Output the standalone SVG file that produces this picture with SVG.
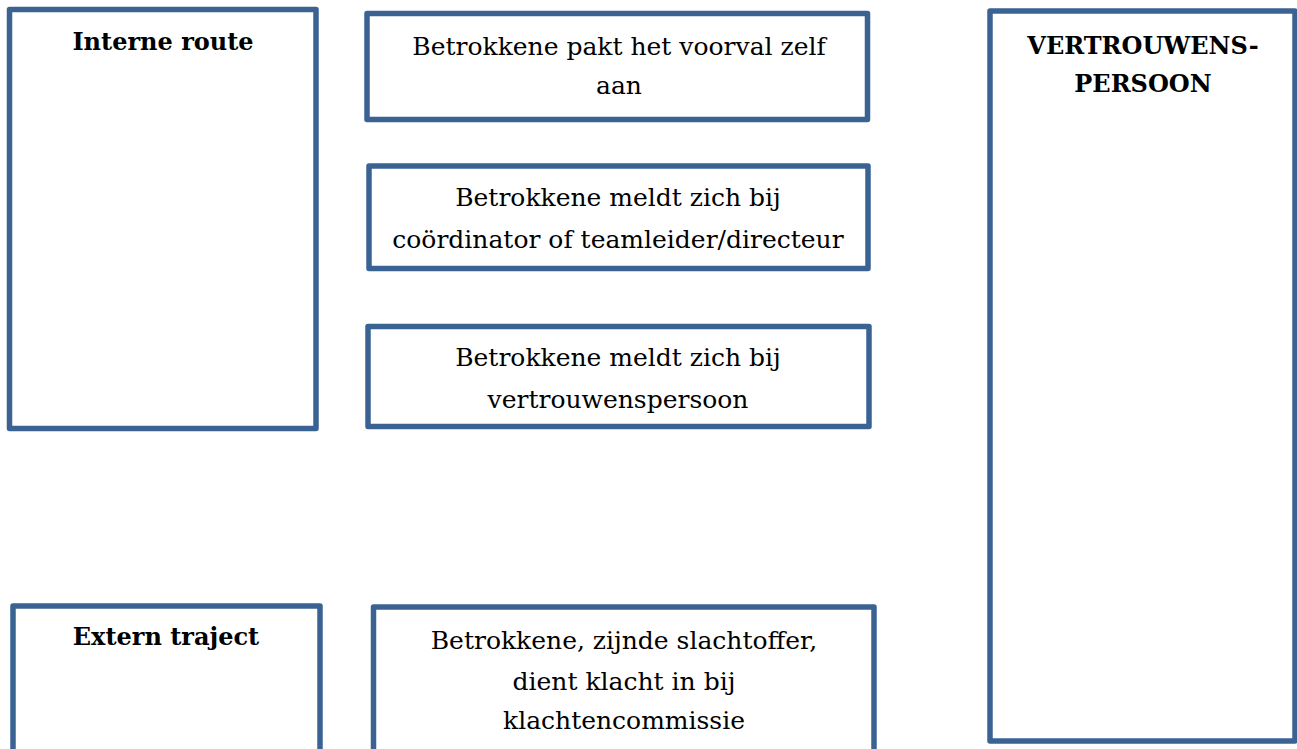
<svg xmlns="http://www.w3.org/2000/svg" width="1297" height="749" viewBox="0 0 1297 749">
<style>
.box{fill:#fff;stroke:#3A6394;stroke-width:5.5;stroke-linejoin:round}
.t{font-family:"DejaVu Serif","Liberation Serif",serif;font-size:25px;fill:#000;text-anchor:middle}
.h{font-family:"DejaVu Serif","Liberation Serif",serif;font-size:24px;font-weight:bold;fill:#000;text-anchor:middle}
</style>
<rect width="1297" height="749" fill="#fff"/>
<g id="interne-route">
<rect class="box" x="9.5" y="9.5" width="306.5" height="419"/>
<text class="h" x="163" y="50">Interne route</text>
</g>
<g id="zelf">
<rect class="box" x="367" y="13.5" width="500.5" height="106"/>
<text class="t" x="619" y="55">Betrokkene pakt het voorval zelf</text>
<text class="t" x="619" y="94">aan</text>
</g>
<g id="coordinator">
<rect class="box" x="369" y="166" width="499" height="102.5"/>
<text class="t" x="618" y="206">Betrokkene meldt zich bij</text>
<text class="t" x="618" y="248">coördinator of teamleider/directeur</text>
</g>
<g id="vp-meld">
<rect class="box" x="368" y="326.5" width="501" height="100"/>
<text class="t" x="618" y="366">Betrokkene meldt zich bij</text>
<text class="t" x="618" y="408">vertrouwenspersoon</text>
</g>
<g id="vertrouwenspersoon">
<rect class="box" x="990" y="11" width="305" height="730"/>
<text class="h" x="1143" y="54">VERTROUWENS-</text>
<text class="h" x="1143" y="92">PERSOON</text>
</g>
<g id="extern-traject">
<rect class="box" x="13" y="606" width="307" height="160"/>
<text class="h" x="166" y="645">Extern traject</text>
</g>
<g id="klacht">
<rect class="box" x="373.5" y="607" width="500.5" height="160"/>
<text class="t" x="624" y="649">Betrokkene, zijnde slachtoffer,</text>
<text class="t" x="624" y="690">dient klacht in bij</text>
<text class="t" x="624" y="729">klachtencommissie</text>
</g>
<g id="connectors"/>
</svg>
